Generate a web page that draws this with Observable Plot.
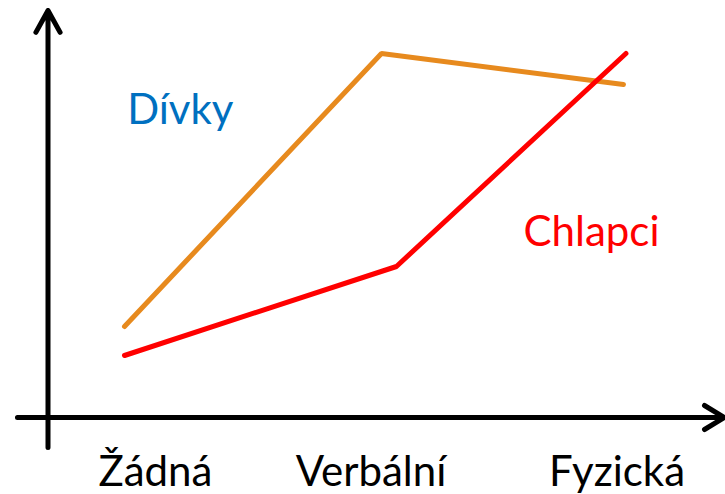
<!DOCTYPE html>
<html>
<head>
<meta charset="utf-8">
<script src="https://cdn.jsdelivr.net/npm/d3@7"></script>
<script src="https://cdn.jsdelivr.net/npm/@observablehq/plot@0.6"></script>
<style>
  html, body { margin: 0; padding: 0; background: #fff; }
  #chart svg { display: block; }
</style>
</head>
<body>
<div id="chart"></div>
<script>
// Categories (x index) and their label positions
const categories = ["Žádná", "Verbální", "Fyzická"];
const categoryLabelX = [0.124, 0.988, 1.974];

// Series values, x = category position, y = value
const divkyX = [0, 1.03, 2];
const divkyY = [22.75, 91, 83.25];
const chlapciX = [0, 1.09, 2.01];
const chlapciY = [15.5, 37.75, 91];

// Series labels
const seriesNames = ["Dívky", "Chlapci"];
const seriesLabelX = [0.224, 1.872];
const seriesLabelY = [73.5, 43];
const seriesLabelColors = ["#0070C0", "#FF0000"];

const divky = divkyX.map((x, i) => ({x, y: divkyY[i]}));
const chlapci = chlapciX.map((x, i) => ({x, y: chlapciY[i]}));
const catLabels = categories.map((c, i) => ({label: c, x: categoryLabelX[i]}));
const serLabels = seriesNames.map((s, i) => ({label: s, x: seriesLabelX[i], y: seriesLabelY[i], color: seriesLabelColors[i]}));

const font = "Lato, 'Open Sans', sans-serif";

const chart = Plot.plot({
  width: 725,
  height: 494,
  margin: 0,
  x: {type: "linear", domain: [-0.497, 2.409], range: [0, 725], axis: null},
  y: {type: "linear", domain: [-19.25, 104.25], range: [494, 0], axis: null},
  style: {fontFamily: font, background: "#fff"},
  marks: [
    // y axis with arrow
    Plot.arrow([{x1: -0.3066, y1: -7.5, x2: -0.3066, y2: 101.75}], {
      x1: "x1", y1: "y1", x2: "x2", y2: "y2",
      stroke: "#000", strokeWidth: 5, headLength: 7.5, headAngle: 58,
      strokeLinecap: "round", strokeLinejoin: "round", inset: 0
    }),
    // x axis with arrow
    Plot.arrow([{x1: -0.429, y1: 0, x2: 2.405, y2: 0}], {
      x1: "x1", y1: "y1", x2: "x2", y2: "y2",
      stroke: "#000", strokeWidth: 5, headLength: 7, headAngle: 62,
      strokeLinecap: "round", strokeLinejoin: "round", inset: 0
    }),
    Plot.line(divky, {x: "x", y: "y", stroke: "#E78A1E", strokeWidth: 5, strokeLinejoin: "miter", curve: "linear"}),
    Plot.line(chlapci, {x: "x", y: "y", stroke: "#FF0000", strokeWidth: 5, strokeLinejoin: "miter", curve: "linear"}),
    Plot.text(catLabels, {
      x: "x", y: () => -17, text: "label",
      fontSize: 42, fill: "#000", textAnchor: "middle", lineAnchor: "bottom", fontFamily: font
    }),
    Plot.text(serLabels, {
      x: "x", y: "y", text: "label", fill: "color",
      fontSize: 42, textAnchor: "middle", lineAnchor: "bottom", fontFamily: font
    })
  ]
});

document.getElementById("chart").appendChild(chart);
</script>
</body>
</html>
